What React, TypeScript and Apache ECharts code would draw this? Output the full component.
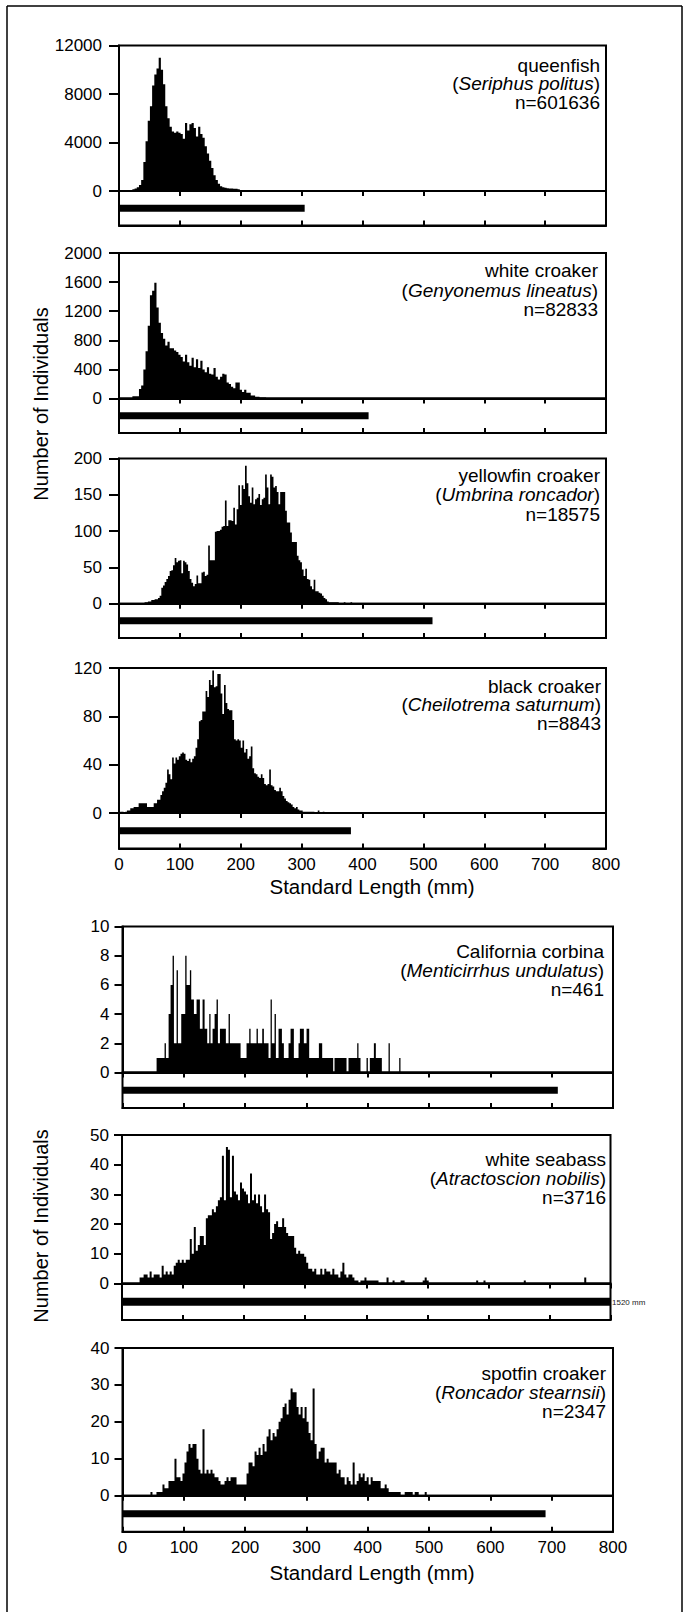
import React, { useEffect, useRef } from "react";
import * as echarts from "echarts";

const FONT = '"Liberation Sans", Arial, Helvetica, sans-serif';

// ---------- data (lengths in mm, counts = number of individuals) ----------
const xTicks = [0, 100, 200, 300, 400, 500, 600, 700, 800];

const queenfishStart = 22;
const queenfishBin = 3.6;
const queenfishCounts = [150, 200, 300, 500, 900, 2400, 4100, 5800, 7000, 8700, 9600, 10100, 11000, 10000, 8800, 7000, 6000, 5300, 4900, 4800, 4900, 4800, 4700, 4300, 5600, 5000, 5500, 5600, 5200, 4500, 5300, 4700, 4400, 3700, 3100, 2500, 1900, 1300, 900, 600, 400, 300, 270, 220, 200, 200, 180, 180, 150];

const whiteCroakerStart = 22;
const whiteCroakerBin = 3.6;
const whiteCroakerCounts = [30, 30, 30, 130, 180, 400, 650, 1000, 1420, 1480, 1590, 1250, 1040, 900, 820, 730, 780, 690, 690, 660, 640, 600, 570, 510, 600, 500, 450, 560, 430, 540, 420, 520, 400, 360, 430, 340, 330, 420, 300, 260, 300, 340, 330, 220, 200, 160, 140, 220, 220, 120, 90, 120, 80, 80, 40, 40, 25, 25, 15, 15, 15];

const yellowfinStart = 42;
const yellowfinBin = 2.75;
const yellowfinCounts = [2, 2, 3, 3, 5, 5, 6, 6, 8, 11, 22, 25, 30, 34, 38, 45, 46, 53, 63, 57, 59, 60, 42, 59, 57, 54, 45, 34, 29, 24, 27, 39, 28, 28, 43, 44, 38, 40, 80, 60, 60, 60, 99, 100, 100, 102, 106, 107, 142, 107, 115, 115, 114, 132, 109, 130, 163, 136, 163, 158, 190, 166, 148, 139, 160, 137, 144, 146, 151, 136, 144, 146, 178, 160, 137, 178, 175, 160, 162, 154, 137, 154, 154, 154, 128, 112, 112, 98, 85, 85, 85, 66, 60, 57, 47, 38, 48, 34, 33, 24, 20, 33, 17, 17, 15, 14, 11, 8, 6, 3, 2, 2, 2, 2, 2, 2, 0, 1, 1, 2, 0, 0, 0, 2];

const blackCroakerStart = 2;
const blackCroakerBin = 2.75;
const blackCroakerCounts = [1, 1, 0, 1, 2, 2, 4, 4, 5, 5, 5, 8, 8, 8, 8, 8, 5, 5, 5, 5, 8, 8, 11, 11, 15, 18, 21, 25, 36, 32, 28, 46, 41, 46, 44, 47, 49, 50, 49, 44, 43, 45, 42, 45, 47, 54, 61, 76, 77, 84, 84, 101, 96, 110, 106, 118, 104, 105, 115, 115, 99, 82, 106, 91, 86, 85, 85, 77, 61, 60, 61, 60, 54, 60, 50, 53, 45, 47, 55, 37, 33, 32, 30, 29, 32, 29, 24, 23, 24, 36, 23, 22, 19, 18, 18, 21, 18, 14, 12, 10, 9, 8, 7, 5, 4, 5, 3, 2, 2, 1, 1, 1, 1, 1, 1, 1, 0, 0, 2, 0, 0, 1];

// California corbina: [from mm, to mm, count]
const corbinaBins = [
  [55.6, 68.6, 1], [68.6, 70.8, 2], [70.8, 75.2, 1], [75.2, 78.4, 4], [78.4, 81.7, 6], [81.7, 83.9, 8],
  [83.9, 88.2, 2], [88.2, 90.4, 7], [90.4, 95.8, 2], [95.8, 102.3, 4], [102.3, 104.5, 8], [104.5, 109.9, 6],
  [109.9, 112.1, 7], [112.1, 116.5, 5], [116.5, 120.8, 4], [120.8, 126.2, 5], [126.2, 130.6, 3], [130.6, 133.9, 5],
  [133.9, 138.2, 3], [138.2, 141.5, 2], [141.5, 143.6, 4], [143.6, 146.9, 2], [146.9, 150.2, 3], [150.2, 153.4, 4],
  [153.4, 155.6, 5], [155.6, 158.9, 2], [158.9, 168.6, 3], [168.6, 173, 2], [173, 175.2, 4], [175.2, 192.6, 2],
  [192.6, 202.3, 1], [202.3, 206.7, 2], [206.7, 208.9, 3], [208.9, 218.6, 2], [218.6, 220.8, 3], [220.8, 227.9, 2],
  [227.9, 230.6, 3], [230.6, 238.2, 2], [238.2, 241.5, 1], [241.5, 243.6, 5], [243.6, 248, 2], [248, 250.2, 4],
  [250.2, 254.5, 1], [254.5, 260, 3], [260, 263.2, 2], [263.2, 270.8, 1], [270.8, 274.1, 2], [274.1, 279.5, 3],
  [279.5, 287.1, 1], [287.1, 289.3, 2], [289.3, 295.8, 3], [295.8, 300.2, 2], [300.2, 304.5, 3], [304.5, 320.3, 1],
  [320.3, 325.7, 2], [325.7, 343.6, 1], [345.8, 365.4, 1], [368.6, 382.8, 1], [382.8, 384.9, 2], [384.9, 388.2, 1],
  [398, 400.2, 1], [403.4, 410, 1], [410, 413.2, 2], [413.2, 423, 1], [433.9, 436, 2], [451.3, 453.4, 1],
];

const seabassStart = 28.8;
const seabassBin = 3.288;
const seabassCounts = [2, 2, 3, 3, 2, 4, 2, 3, 3, 3, 2, 6, 3, 4, 3, 4, 3, 6, 7, 8, 7, 8, 7, 8, 8, 15, 10, 19, 11, 13, 16, 16, 13, 22, 23, 23, 25, 24, 26, 28, 29, 43, 28, 46, 45, 29, 43, 31, 30, 28, 34, 32, 31, 30, 27, 37, 28, 30, 27, 30, 26, 24, 30, 25, 24, 15, 17, 20, 21, 19, 19, 22, 19, 17, 16, 16, 16, 12, 10, 11, 10, 10, 9, 7, 5, 5, 4, 5, 3, 3, 5, 3, 5, 4, 4, 3, 5, 3, 3, 2, 4, 7, 3, 2, 3, 3, 2, 1, 1, 0, 1, 1, 2, 1, 1, 1, 1, 1, 1, 0, 0, 0, 0, 2, 0, 0, 1, 0, 0, 0, 1, 1, 0, 0, 0, 0, 0, 0, 0, 0, 0, 1, 2, 1];
// isolated large white seabass: [length mm, count]
const seabassStrays = [[580, 1], [592, 1], [658, 1], [757, 2]];

const spotfinStart = 45.6;
const spotfinBin = 3.265;
const spotfinCounts = [1, 0, 0, 1, 1, 1, 3, 2, 2, 4, 4, 4, 10, 5, 5, 4, 6, 9, 12, 14, 13, 14, 14, 10, 7, 6, 18, 6, 7, 6, 7, 6, 5, 5, 4, 3, 3, 4, 5, 4, 5, 5, 5, 3, 3, 3, 3, 3, 6, 9, 9, 8, 12, 11, 13, 11, 14, 12, 16, 18, 15, 17, 16, 18, 20, 21, 24, 25, 22, 26, 29, 28, 28, 24, 22, 24, 21, 24, 20, 17, 15, 29, 14, 10, 12, 13, 13, 9, 10, 9, 9, 9, 9, 6, 7, 5, 5, 3, 5, 4, 3, 9, 3, 4, 6, 5, 6, 4, 5, 3, 5, 4, 4, 4, 4, 2, 2, 3, 2, 1, 1, 1, 1, 1, 1, 0, 0, 1, 1, 1, 1, 0, 1, 1, 0, 0, 0, 1];

// maximum recorded length (black bar), mm
const maxLengths = [305, 410, 515, 381, 710, 1520, 690];

const commonNames = ["queenfish", "white croaker", "yellowfin croaker", "black croaker", "California corbina", "white seabass", "spotfin croaker"];
const scientificNames = ["Seriphus politus", "Genyonemus lineatus", "Umbrina roncador", "Cheilotrema saturnum", "Menticirrhus undulatus", "Atractoscion nobilis", "Roncador stearnsii"];
const sampleSizes = ["n=601636", "n=82833", "n=18575", "n=8843", "n=461", "n=3716", "n=2347"];
const yMaxes = [12000, 2000, 200, 120, 10, 50, 40];
const yIntervals = [4000, 400, 50, 40, 2, 10, 10];

function uniformBins(start: number, width: number, counts: number[]) {
  return counts
    .map((c, i) => [start + i * width, start + (i + 1) * width, c])
    .filter((d) => d[2] > 0);
}

const histograms: number[][][] = [
  uniformBins(queenfishStart, queenfishBin, queenfishCounts),
  uniformBins(whiteCroakerStart, whiteCroakerBin, whiteCroakerCounts),
  uniformBins(yellowfinStart, yellowfinBin, yellowfinCounts),
  uniformBins(blackCroakerStart, blackCroakerBin, blackCroakerCounts),
  corbinaBins,
  uniformBins(seabassStart, seabassBin, seabassCounts).concat(
    seabassStrays.map(([l, c]) => [l, l + seabassBin, c])
  ),
  uniformBins(spotfinStart, spotfinBin, spotfinCounts),
];

// ---------- layout (pixels) ----------
const layout = [
  { left: 119, width: 487, top: 45.5, upperH: 145.5, lowerH: 34.5, tick: 10, margin: 17, textRight: 600, textY: [65, 83.5, 102], xLabels: false },
  { left: 119, width: 487, top: 253, upperH: 145.5, lowerH: 34.5, tick: 10, margin: 17, textRight: 598, textY: [270.5, 290, 309], xLabels: false },
  { left: 119, width: 487, top: 458.5, upperH: 145.2, lowerH: 34.3, tick: 10, margin: 17, textRight: 600, textY: [475, 494.5, 514], xLabels: false },
  { left: 119, width: 487, top: 668, upperH: 145, lowerH: 35.5, tick: 10, margin: 17, textRight: 601, textY: [686, 704.5, 723], xLabels: true },
  { left: 122.5, width: 490.5, top: 926.5, upperH: 146, lowerH: 35.5, tick: 8, margin: 13, textRight: 604, textY: [951, 970, 989], xLabels: false },
  { left: 122, width: 488.5, top: 1135, upperH: 148.5, lowerH: 36.5, tick: 8, margin: 13, textRight: 606, textY: [1159, 1178, 1197], xLabels: false },
  { left: 122.5, width: 490.5, top: 1348, upperH: 147.7, lowerH: 36, tick: 8, margin: 13, textRight: 606, textY: [1373, 1392, 1411], xLabels: true },
];

function buildOption() {
  const grid: any[] = [];
  const xAxis: any[] = [];
  const yAxis: any[] = [];
  const series: any[] = [];
  const graphic: any[] = [];
  const black = "#000";
  const plain = (v: number) => String(v);

  layout.forEach((L, i) => {
    const gu = grid.length;
    const gl = gu + 1;
    grid.push({ left: L.left, top: L.top, width: L.width, height: L.upperH, show: true, borderColor: black, borderWidth: 2, containLabel: false });
    grid.push({ left: L.left, top: L.top + L.upperH, width: L.width, height: L.lowerH, show: true, borderColor: black, borderWidth: 2, containLabel: false });

    xAxis.push({
      gridIndex: gu, type: "value", min: xTicks[0], max: xTicks[xTicks.length - 1], interval: xTicks[1] - xTicks[0],
      axisLine: { show: true, onZero: false, lineStyle: { color: black, width: 2 } },
      axisTick: { show: true, inside: false, length: 5, lineStyle: { color: black, width: 2 } },
      axisLabel: { show: false }, splitLine: { show: false },
    });
    xAxis.push({
      gridIndex: gl, type: "value", min: xTicks[0], max: xTicks[xTicks.length - 1], interval: xTicks[1] - xTicks[0],
      axisLine: { show: true, onZero: false, lineStyle: { color: black, width: 2 } },
      axisTick: { show: true, inside: true, length: 5, lineStyle: { color: black, width: 2 } },
      axisLabel: { show: L.xLabels, color: black, fontSize: 17, fontFamily: FONT, margin: 7, formatter: plain },
      splitLine: { show: false },
    });
    yAxis.push({
      gridIndex: gu, type: "value", min: 0, max: yMaxes[i], interval: yIntervals[i],
      axisLine: { show: true, onZero: false, lineStyle: { color: black, width: 2 } },
      axisTick: { show: true, inside: false, length: L.tick, lineStyle: { color: black, width: 2 } },
      axisLabel: { show: true, color: black, fontSize: 17, fontFamily: FONT, margin: L.margin, formatter: plain },
      splitLine: { show: false },
    });
    yAxis.push({ gridIndex: gl, type: "value", min: 0, max: 1, show: false, splitLine: { show: false } });

    // histogram: one solid step outline built from every bin through the axis scales
    const bins = histograms[i];
    series.push({
      type: "custom", xAxisIndex: gu, yAxisIndex: gu, clip: true, silent: true,
      data: bins, encode: { x: [0, 1], y: 2 },
      renderItem: (params: any, api: any) => {
        if (params.dataIndex !== 0) return null;
        const pts: number[][] = [];
        let prevEnd: number | null = null;
        let base = 0;
        for (const [x0, x1, c] of bins) {
          const a = api.coord([x0, 0]);
          const b = api.coord([x1, c]);
          base = a[1];
          if (prevEnd === null || a[0] > prevEnd + 0.05) {
            if (prevEnd !== null) pts.push([prevEnd, base]);
            pts.push([a[0], base]);
          }
          pts.push([a[0], b[1]], [b[0], b[1]]);
          prevEnd = b[0];
        }
        if (prevEnd !== null) pts.push([prevEnd, base]);
        return { type: "polygon", shape: { points: pts }, style: { fill: black } };
      },
    });
    series.push({
      type: "custom", xAxisIndex: gl, yAxisIndex: gl, clip: true, silent: true,
      data: [[0, maxLengths[i]]], encode: { x: [0, 1] },
      renderItem: (_p: any, api: any) => {
        const a = api.coord([api.value(0), 0.5]);
        const b = api.coord([api.value(1), 0.5]);
        const h = i === 5 ? 8 : 7;
        return { type: "rect", shape: { x: a[0], y: a[1] - h / 2, width: b[0] - a[0], height: h }, style: { fill: black } };
      },
    });

    // species labels
    const base = { fontSize: 19, fontFamily: FONT, fill: black };
    graphic.push({ type: "text", x: L.textRight, y: L.textY[0], silent: true,
      style: { ...base, text: commonNames[i], align: "right", verticalAlign: "middle" } });
    graphic.push({ type: "text", x: L.textRight, y: L.textY[1], silent: true,
      style: {
        ...base,
        text: `{n|(}{it|${scientificNames[i]}}{n|)}`,
        rich: { n: { ...base }, it: { ...base, fontStyle: "italic" } },
        align: "right", verticalAlign: "middle",
      } });
    graphic.push({ type: "text", x: L.textRight, y: L.textY[2], silent: true,
      style: { ...base, text: sampleSizes[i], align: "right", verticalAlign: "middle" } });
  });

  // axis titles
  const titleStyle = { fontSize: 20.5, fontFamily: FONT, fill: "#000", align: "center", verticalAlign: "middle" };
  graphic.push({ type: "text", x: 372, y: 886, silent: true, style: { ...titleStyle, text: "Standard Length (mm)" } });
  graphic.push({ type: "text", x: 372, y: 1572, silent: true, style: { ...titleStyle, text: "Standard Length (mm)" } });
  graphic.push({ type: "text", x: 41, y: 404, rotation: Math.PI / 2, silent: true, style: { ...titleStyle, fontSize: 20, text: "Number of Individuals" } });
  graphic.push({ type: "text", x: 41, y: 1226, rotation: Math.PI / 2, silent: true, style: { ...titleStyle, fontSize: 20, text: "Number of Individuals" } });
  // label for the off-scale white seabass maximum
  graphic.push({ type: "text", x: 612, y: 1302, silent: true,
    style: { text: maxLengths[5] + " mm", fontSize: 8, fontFamily: FONT, fill: "#222", align: "left", verticalAlign: "middle" } });

  // outer frame
  const frame = { stroke: "#000", lineWidth: 1.5 };
  graphic.push({ type: "line", silent: true, shape: { x1: 7, y1: 6, x2: 682, y2: 6 }, style: frame });
  graphic.push({ type: "line", silent: true, shape: { x1: 7, y1: 6, x2: 7, y2: 1612 }, style: frame });
  graphic.push({ type: "line", silent: true, shape: { x1: 682, y1: 6, x2: 682, y2: 1612 }, style: frame });

  return { backgroundColor: "#fff", animation: false, grid, xAxis, yAxis, series, graphic };
}

export default function App() {
  const ref = useRef<HTMLDivElement | null>(null);
  useEffect(() => {
    if (!ref.current) return;
    const chart = echarts.init(ref.current, undefined, { renderer: "svg" });
    chart.setOption(buildOption() as any);
    return () => chart.dispose();
  }, []);
  return <div ref={ref} style={{ position: "absolute", left: 0, top: 0, width: 684, height: 1612 }} />;
}
